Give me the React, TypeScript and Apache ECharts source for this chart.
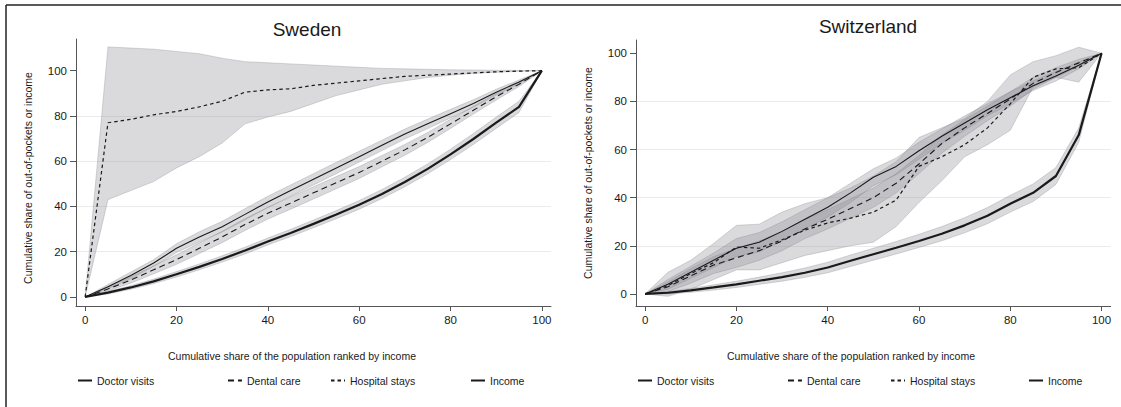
import React, { useEffect, useRef } from 'react';
import * as echarts from 'echarts';

// Cumulative share of the population ranked by income (x positions)
const popShare = [0, 5, 10, 15, 20, 25, 30, 35, 40, 45, 50, 55, 60, 65, 70, 75, 80, 85, 90, 95, 100];
const axisTicks = [0, 20, 40, 60, 80, 100];

// Sweden: concentration curves and confidence bands
const seDoctor = [0, 4.5, 9.5, 15, 21.5, 26.5, 31, 36.5, 42, 47, 52, 57, 62, 67, 72, 76.5, 81, 85.5, 90.5, 95, 100];
const seDoctorHi = [0, 5.5, 11, 16.5, 23.5, 28.8, 33.4, 39, 44.5, 49.5, 54.5, 59.5, 64.4, 69.3, 74.2, 78.6, 82.9, 87.2, 91.8, 95.9, 100];
const seDoctorLo = [0, 3.6, 8, 13.5, 19.6, 24.3, 28.7, 34, 39.5, 44.5, 49.5, 54.5, 59.6, 64.7, 69.8, 74.4, 79.1, 83.8, 89.2, 94.1, 100];
const seDental = [0, 3.5, 7.5, 12, 16.5, 21.5, 26.5, 32, 37, 41.5, 46, 50.5, 55, 60, 65, 70.5, 76.5, 82.5, 88.5, 94, 100];
const seDentalHi = [0, 4.3, 8.9, 13.8, 18.6, 23.8, 29, 34.6, 39.6, 44.2, 48.7, 53.2, 57.6, 62.5, 67.4, 72.7, 78.5, 84.2, 90, 95, 100];
const seDentalLo = [0, 2.7, 6.1, 10.2, 14.4, 19.2, 24, 29.4, 34.4, 38.8, 43.3, 47.8, 52.4, 57.5, 62.6, 68.3, 74.5, 80.8, 87, 93, 100];
const seHospital = [0, 77, 78.5, 80.5, 82, 84, 86.5, 90.5, 91.5, 92, 93.5, 94.5, 95.5, 96.5, 97.5, 98, 98.5, 99, 99.5, 99.8, 100];
const seHospitalHi = [0, 110.5, 110, 109.5, 108.5, 107.5, 105.5, 104, 103.5, 103, 102.5, 102, 101.5, 101, 100.8, 100.6, 100.4, 100.3, 100.2, 100.1, 100];
const seHospitalLo = [0, 43, 47, 51, 57, 62, 68, 76.5, 79.5, 82, 85.5, 89, 91.5, 94, 95.5, 97, 98, 98.8, 99.3, 99.7, 100];
const seIncome = [0, 1.9, 4.2, 6.9, 10, 13.3, 16.8, 20.5, 24.5, 28.3, 32.3, 36.4, 40.7, 45.5, 50.8, 56.6, 63, 69.8, 77, 84, 100];
const seIncomeHi = [0, 2.5, 5, 7.9, 11.2, 14.6, 18.2, 22, 26, 29.9, 34, 38.2, 42.6, 47.5, 52.9, 58.8, 65.3, 72.2, 79.5, 86.5, 100];
const seIncomeLo = [0, 1.3, 3.4, 5.9, 8.8, 12, 15.4, 19, 23, 26.7, 30.6, 34.6, 38.8, 43.5, 48.7, 54.4, 60.7, 67.4, 74.5, 81.5, 100];

// Switzerland: concentration curves and confidence bands
const chDoctor = [0, 4, 9, 14, 19, 21.5, 26, 31, 36, 42, 48.5, 53, 59.5, 65.5, 71, 76.5, 81.5, 86.5, 90.5, 95, 100];
const chDoctorHi = [0, 6, 11.5, 17, 23, 25.5, 30, 35, 40, 46, 52, 56.5, 63, 68.5, 74, 79, 84, 88.5, 92.5, 96.5, 100];
const chDoctorLo = [0, 2, 6.5, 11, 15.5, 17.5, 22, 27, 32, 38, 45, 49.5, 56, 62.5, 68, 74, 79, 84.5, 88.5, 93.5, 100];
const chDental = [0, 3, 7.5, 12, 15, 18, 22, 27, 31, 35.5, 40, 46, 54, 62.5, 69, 75, 81, 87.5, 92, 96, 100];
const chDentalHi = [0, 5, 10.5, 15.5, 19, 22, 26, 31, 35, 39.5, 44, 50, 57.5, 66, 72.5, 78, 84, 90, 94, 97.5, 100];
const chDentalLo = [0, 1, 4.5, 8.5, 11, 14, 18, 23, 27, 31.5, 36, 42, 50, 58.5, 65.5, 72, 78, 85, 90, 94.5, 100];
const chHospital = [0, 3.5, 8.5, 13, 19.5, 19, 22.5, 26.5, 29.5, 31.5, 34, 39, 53, 57, 62, 69, 79, 90, 93.5, 94, 100];
const chHospitalHi = [0, 9, 14, 21, 28.5, 29, 34, 37.5, 40, 44, 49, 55, 65, 69, 73, 80, 91, 96.5, 99, 102.5, 100];
const chHospitalLo = [0, -1, 2, 6, 10, 10, 13, 16, 18, 20, 21.5, 28, 38, 47, 57, 62, 68, 86, 90, 88, 100];
const chIncome = [0, 0.5, 1.5, 2.7, 4, 5.5, 7, 8.8, 11, 13.8, 16.5, 19.2, 22, 25, 28.5, 32.5, 37.5, 42, 49, 66, 100];
const chIncomeHi = [0, 1, 2.3, 3.8, 5.3, 7, 8.8, 10.8, 13.2, 16.2, 19, 21.8, 24.8, 28, 31.7, 35.9, 41, 45.7, 52.5, 69, 100];
const chIncomeLo = [0, 0, 0.7, 1.6, 2.7, 4, 5.3, 6.9, 8.8, 11.4, 14, 16.6, 19.3, 22.1, 25.4, 29.2, 34, 38.4, 45.5, 63, 100];

const panelTitles = ['Sweden', 'Switzerland'];
const legendNames = ['Doctor visits', 'Dental care', 'Hospital stays', 'Income'];
const xTitle = 'Cumulative share of the population ranked by income';
const yTitle = 'Cumulative share of out-of-pockets or income';

const FONT = 'Liberation Sans, Arial, Helvetica, sans-serif';
const INK = '#1a1a1a';

const pairs = (ys: number[]) => popShare.map((x, i) => [x, ys[i]]);

function band(id: string, g: number, hi: number[], lo: number[]) {
  return {
    type: 'custom',
    name: id,
    xAxisIndex: g,
    yAxisIndex: g,
    z: 1,
    silent: true,
    data: [0],
    renderItem: (_params: any, api: any) => {
      const top = popShare.map((x, i) => api.coord([x, hi[i]]));
      const bottom = popShare.map((x, i) => api.coord([x, lo[i]])).reverse();
      return {
        type: 'polygon',
        shape: { points: top.concat(bottom) },
        style: {
          fill: 'rgba(140,140,150,0.32)',
          stroke: 'rgba(120,120,130,0.35)',
          lineWidth: 0.8,
        },
      };
    },
  };
}

function curve(name: string, g: number, ys: number[], width: number, type: any) {
  return {
    type: 'line',
    name,
    xAxisIndex: g,
    yAxisIndex: g,
    z: 3,
    data: pairs(ys),
    symbol: 'none',
    showSymbol: false,
    silent: true,
    lineStyle: { color: INK, width, type },
    itemStyle: { color: INK },
  };
}

function panelSeries(
  g: number,
  doc: number[], docHi: number[], docLo: number[],
  den: number[], denHi: number[], denLo: number[],
  hos: number[], hosHi: number[], hosLo: number[],
  inc: number[], incHi: number[], incLo: number[],
) {
  return [
    band('band-hosp-' + g, g, hosHi, hosLo),
    band('band-doc-' + g, g, docHi, docLo),
    band('band-den-' + g, g, denHi, denLo),
    band('band-inc-' + g, g, incHi, incLo),
    curve(legendNames[0], g, doc, 1.1, 'solid'),
    curve(legendNames[1], g, den, 1.1, [6, 4]),
    curve(legendNames[2], g, hos, 1.2, [3.5, 3]),
    curve(legendNames[3], g, inc, 2.2, 'solid'),
  ];
}

function xAxis(g: number) {
  return {
    type: 'value',
    gridIndex: g,
    min: -2,
    max: 102,
    axisLine: { show: true, onZero: false, lineStyle: { color: '#555', width: 1 } },
    axisTick: { show: true, length: 5, customValues: axisTicks, lineStyle: { color: '#555' } },
    axisLabel: { customValues: axisTicks, margin: 8, fontSize: 11.5, color: INK, fontFamily: FONT },
    splitLine: { show: false },
  };
}

function yAxis(g: number, min: number, max: number) {
  return {
    type: 'value',
    gridIndex: g,
    min,
    max,
    axisLine: { show: true, onZero: false, lineStyle: { color: '#555', width: 1 } },
    axisTick: { show: true, length: 6, customValues: axisTicks, lineStyle: { color: '#555' } },
    axisLabel: { customValues: axisTicks, margin: 9, fontSize: 11.5, color: INK, fontFamily: FONT },
    splitLine: { show: true, showMinLine: false, showMaxLine: false, lineStyle: { color: '#ebebeb', width: 1 } },
  };
}

// legend entries: [name, left edge of the icon]
const legendSlots: [string, number][] = [
  [legendNames[0], 77], [legendNames[1], 227], [legendNames[2], 330], [legendNames[3], 470],
  [legendNames[0], 637], [legendNames[1], 787], [legendNames[2], 890], [legendNames[3], 1028],
];

function text(str: string, x: number, y: number, size: number, rotation = 0) {
  return {
    type: 'text',
    x,
    y,
    rotation,
    silent: true,
    style: {
      text: str,
      fontSize: size,
      fontFamily: FONT,
      fill: INK,
      align: 'center',
      verticalAlign: 'middle',
    },
  };
}

function frameLine(x1: number, y1: number, x2: number, y2: number) {
  return {
    type: 'line',
    silent: true,
    shape: { x1, y1, x2, y2 },
    style: { stroke: '#222', lineWidth: 1.5 },
  };
}

export default function App() {
  const ref = useRef<HTMLDivElement>(null);

  useEffect(() => {
    document.body.style.margin = '0';
    document.body.style.overflow = 'hidden';
    if (!ref.current) return;
    const chart = echarts.init(ref.current, undefined, { renderer: 'svg' });
    chart.setOption({
      animation: false,
      backgroundColor: '#ffffff',
      textStyle: { fontFamily: FONT },
      grid: [
        { left: 76, top: 39, width: 475, height: 267 },
        { left: 636, top: 40, width: 474.7, height: 266 },
      ],
      xAxis: [xAxis(0), xAxis(1)],
      yAxis: [yAxis(0, -4, 114), yAxis(1, -5, 105.5)],
      legend: legendSlots.map(([name, left]) => ({
        data: [name],
        left,
        top: 375,
        padding: 0,
        itemWidth: 14,
        itemHeight: 8,
        itemGap: 0,
        selectedMode: false,
        itemStyle: { color: 'rgba(0,0,0,0)', borderColor: 'rgba(0,0,0,0)', borderWidth: 0 },
        textStyle: { fontSize: 10.5, color: INK, fontFamily: FONT },
      })),
      graphic: [
        frameLine(6, 5, 1121, 5),
        frameLine(6, 5, 6, 407),
        text(panelTitles[0], 307, 29, 19),
        text(panelTitles[1], 868, 26, 19),
        text(yTitle, 28, 178, 10.5, Math.PI / 2),
        text(yTitle, 588, 173, 10.5, Math.PI / 2),
        text(xTitle, 292, 356, 10.5),
        text(xTitle, 851, 356, 10.5),
      ],
      series: [
        ...panelSeries(0,
          seDoctor, seDoctorHi, seDoctorLo,
          seDental, seDentalHi, seDentalLo,
          seHospital, seHospitalHi, seHospitalLo,
          seIncome, seIncomeHi, seIncomeLo),
        ...panelSeries(1,
          chDoctor, chDoctorHi, chDoctorLo,
          chDental, chDentalHi, chDentalLo,
          chHospital, chHospitalHi, chHospitalLo,
          chIncome, chIncomeHi, chIncomeLo),
      ],
    });
    return () => chart.dispose();
  }, []);

  return <div ref={ref} style={{ width: 1121, height: 407 }} />;
}
